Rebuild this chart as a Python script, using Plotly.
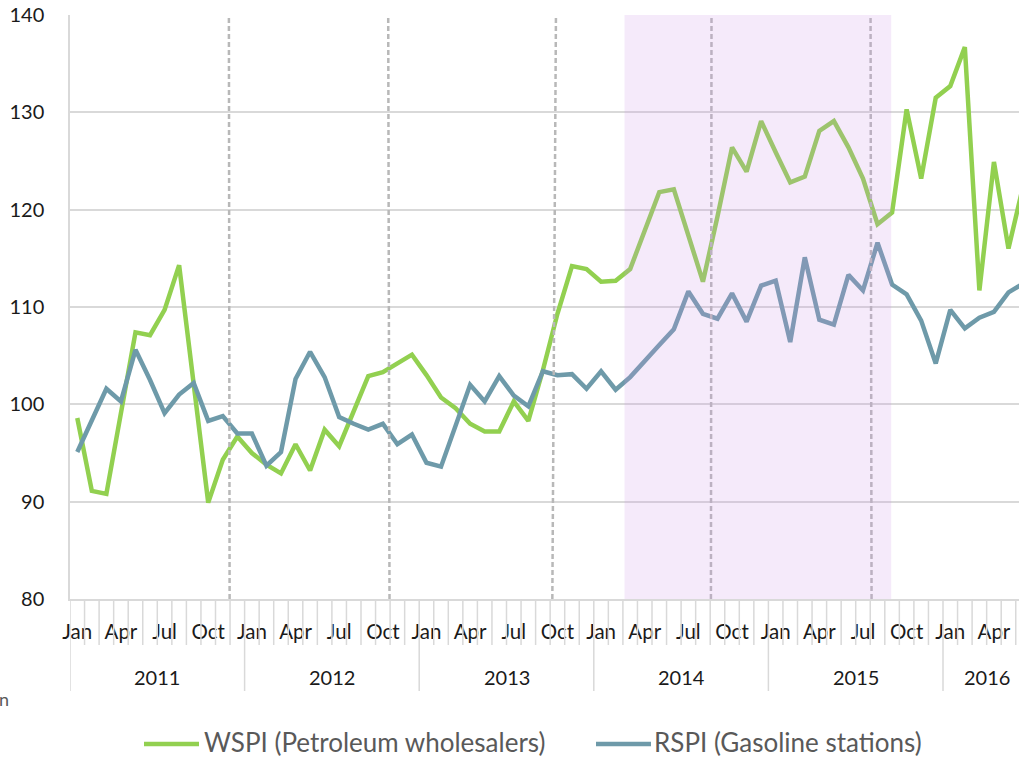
import plotly.graph_objects as go

# ---- data (monthly index values, Jan 2011 - Jun 2016) ----
years = ["2011", "2012", "2013", "2014", "2015", "2016"]
month_labels = ["Jan", "Apr", "Jul", "Oct"]

wspi = [
    98.6, 91.1, 90.8, 99.1, 107.4, 107.1, 109.7, 114.3, 101.9, 89.9, 94.3, 96.7,
    95.0, 93.8, 92.9, 95.9, 93.2, 97.4, 95.7, 99.4, 102.9, 103.3, 104.2, 105.1,
    103.0, 100.7, 99.6, 98.0, 97.2, 97.2, 100.3, 98.3, 103.5, 109.3, 114.2, 113.9,
    112.6, 112.7, 113.9, 117.9, 121.8, 122.1, 117.5, 112.6, 119.3, 126.4, 123.9, 129.1,
    125.9, 122.8, 123.4, 128.1, 129.1, 126.4, 123.2, 118.5, 119.7, 130.3, 123.2, 131.5,
    132.7, 136.7, 111.7, 124.9, 116.0, 122.4,
]
rspi = [
    95.1, 98.4, 101.6, 100.3, 105.6, 102.5, 99.1, 101.0, 102.2, 98.3, 98.8, 97.0,
    97.0, 93.7, 95.1, 102.6, 105.4, 102.8, 98.7, 98.0, 97.4, 98.0, 95.9, 96.9,
    94.0, 93.6, 97.8, 102.0, 100.3, 102.9, 100.9, 99.8, 103.4, 103.0, 103.1, 101.6,
    103.4, 101.5, 102.8, 104.5, 106.1, 107.7, 111.6, 109.3, 108.8, 111.4, 108.5, 112.2,
    112.7, 106.4, 115.1, 108.7, 108.2, 113.3, 111.7, 116.6, 112.3, 111.3, 108.6, 104.2,
    109.7, 107.8, 108.9, 109.5, 111.5, 112.4,
]
series_names = ["WSPI (Petroleum wholesalers)", "RSPI (Gasoline stations)"]

# event markers (month-index positions, top/bottom) and shaded period
event_lines = [(10.42, 10.47), (21.37, 21.46), (32.9, 32.65), (43.59, 43.55), (54.52, 54.59)]
shade_period = (37.61, 55.94)

GREEN = "#92d050"
BLUE = "#6e9aa9"
GRID = "#d9d9d9"
FONT = "Lato, 'Open Sans', sans-serif"

W, H = 1019, 759
L, R, T, B = 70, 0, 15, 160
PW, PH = W - L - R, H - T - B
MONTH_PX = 14.55


def px_x(px):
    return (px - L) / PW


def px_y(py):
    return (H - B - py) / PH


n = len(wspi)
x = list(range(n))

fig = go.Figure()
fig.add_trace(go.Scatter(x=x, y=wspi, mode="lines", name=series_names[0],
                         line=dict(color=GREEN, width=4.5), showlegend=False))
fig.add_trace(go.Scatter(x=x, y=rspi, mode="lines", name=series_names[1],
                         line=dict(color=BLUE, width=4.5), showlegend=False))

shapes = []
# month boundary ticks below the axis
for b in range(n + 1):
    bx = b - 0.5
    is_year = (b % 12 == 0)
    shapes.append(dict(type="line", xref="x", yref="paper", x0=bx, x1=bx,
                       y0=0, y1=-(92 if is_year else 46) / PH,
                       line=dict(color=GRID, width=1.5), layer="above"))
# dashed event lines
for top, bot in event_lines:
    shapes.append(dict(type="line", xref="x", yref="y", x0=bot, x1=top, y0=80, y1=140.3,
                       line=dict(color="#b8b8b8", width=2.5, dash="5px,3px"), layer="above"))
# shaded period (translucent, above the lines)
shapes.append(dict(type="rect", xref="x", yref="y", x0=shade_period[0], x1=shade_period[1],
                   y0=80, y1=140, fillcolor="rgba(205,150,230,0.2)", line=dict(width=0),
                   layer="above"))

# custom legend samples
leg_y = px_y(744)
text_y = px_y(742)
shapes.append(dict(type="line", xref="paper", yref="paper", x0=px_x(144), x1=px_x(199),
                   y0=leg_y, y1=leg_y, line=dict(color=GREEN, width=4.5)))
shapes.append(dict(type="line", xref="paper", yref="paper", x0=px_x(596), x1=px_x(651),
                   y0=leg_y, y1=leg_y, line=dict(color=BLUE, width=4.5)))

annotations = []
for i, yr in enumerate(years):
    start = i * 12 - 0.5
    end = min(start + 12, n - 0.5)
    annotations.append(dict(x=(start + end) / 2, y=px_y(677), xref="x", yref="paper",
                            text=yr, showarrow=False, xanchor="center", yanchor="middle",
                            font=dict(family=FONT, size=20, color="#1a1a1a")))
annotations.append(dict(x=px_x(202), y=text_y, xref="paper", yref="paper", text=series_names[0],
                        showarrow=False, xanchor="left", yanchor="middle",
                        font=dict(family=FONT, size=26, color="#595959")))
annotations.append(dict(x=px_x(652), y=text_y, xref="paper", yref="paper", text=series_names[1],
                        showarrow=False, xanchor="left", yanchor="middle",
                        font=dict(family=FONT, size=26, color="#595959")))
annotations.append(dict(x=px_x(-3), y=px_y(699), xref="paper", yref="paper", text="n",
                        showarrow=False, xanchor="left", yanchor="middle",
                        font=dict(family=FONT, size=18, color="#595959")))

tickvals = list(range(0, n, 3))
ticktext = [month_labels[(v // 3) % 4] for v in tickvals]

fig.update_layout(
    width=W, height=H,
    margin=dict(l=L, r=R, t=T, b=B, pad=0),
    paper_bgcolor="white", plot_bgcolor="white",
    showlegend=False,
    shapes=shapes, annotations=annotations,
    font=dict(family=FONT, size=20, color="#1a1a1a"),
    xaxis=dict(range=[-0.5, -0.5 + PW / MONTH_PX], showgrid=False, zeroline=False,
               tickmode="array", tickvals=tickvals, ticktext=ticktext, ticks="",
               ticklabelstandoff=14, showline=True, linecolor=GRID, linewidth=1.5,
               tickfont=dict(family=FONT, size=20.5, color="#1a1a1a")),
    yaxis=dict(range=[80, 140], dtick=10, tick0=80, showgrid=True, gridcolor=GRID,
               gridwidth=1.5, zeroline=False, showline=True, linecolor=GRID, linewidth=1.5,
               ticks="", ticklabelstandoff=20,
               tickfont=dict(family=FONT, size=20, color="#1a1a1a")),
)

fig.write_html("out.html", config={"displayModeBar": False},
               post_script="document.body.style.margin='0';document.body.style.overflow='hidden';")
